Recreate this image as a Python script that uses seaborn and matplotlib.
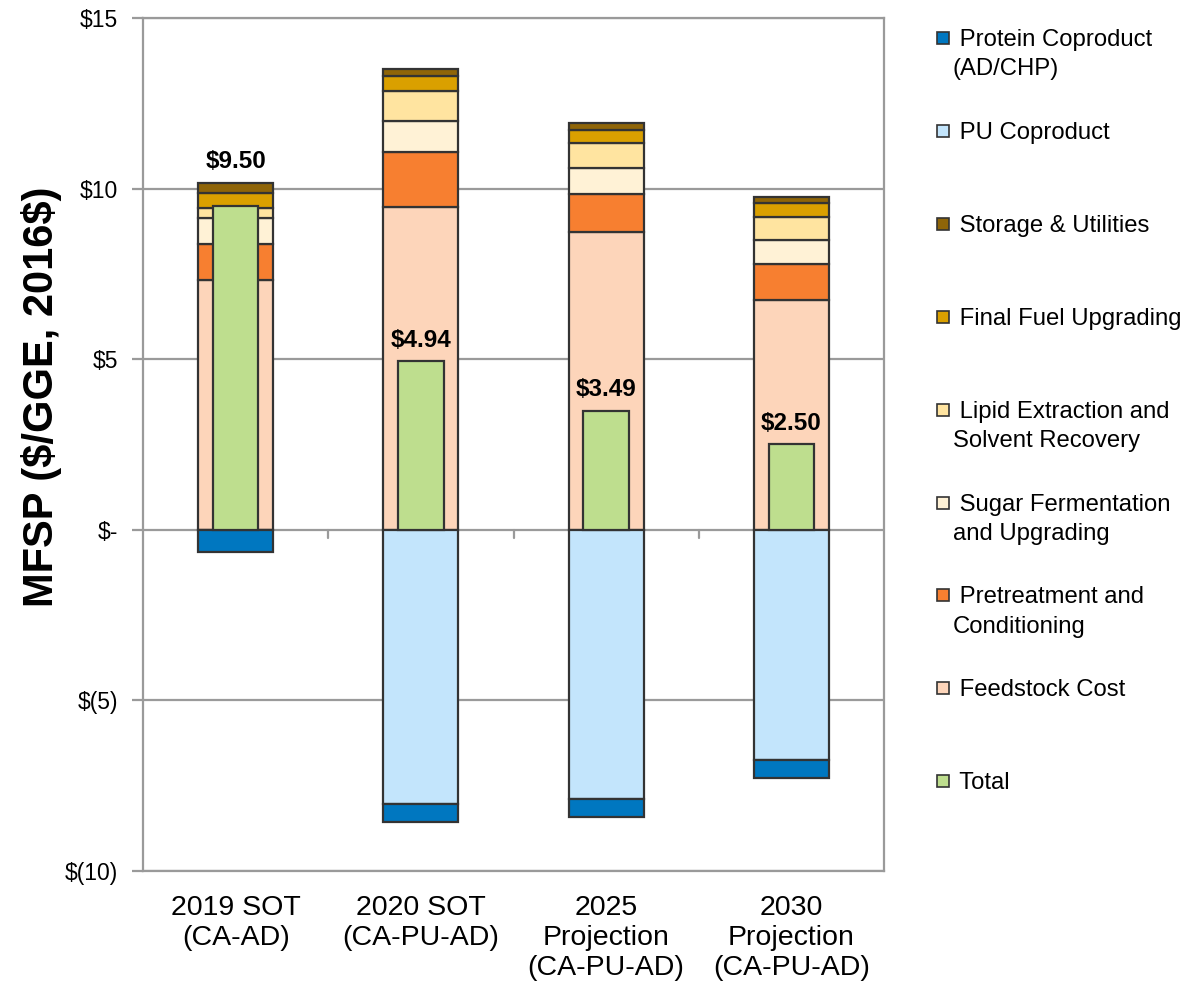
import matplotlib
matplotlib.use("Agg")
import matplotlib.pyplot as plt
import matplotlib.ticker as ticker
from matplotlib.patches import Rectangle
import seaborn as sns
import pandas as pd
import numpy as np

# data ($/GGE, 2016$)
categories = ["2019 SOT\n(CA-AD)", "2020 SOT\n(CA-PU-AD)",
              "2025\nProjection\n(CA-PU-AD)", "2030\nProjection\n(CA-PU-AD)"]
feedstock = [7.32, 9.47, 8.74, 6.74]
pretreatment = [1.06, 1.59, 1.10, 1.04]
sugar = [0.77, 0.93, 0.76, 0.71]
lipid = [0.29, 0.88, 0.73, 0.69]
final_fuel = [0.44, 0.44, 0.39, 0.39]
storage = [0.28, 0.19, 0.19, 0.19]
pu_coproduct = [0.0, -8.04, -7.90, -6.76]
protein = [-0.66, -0.52, -0.52, -0.50]
totals = [9.50, 4.94, 3.49, 2.50]

colors = {
    "Protein Coproduct (AD/CHP)": "#0077C0",
    "PU Coproduct": "#C3E5FC",
    "Storage & Utilities": "#8F6508",
    "Final Fuel Upgrading": "#DAA000",
    "Lipid Extraction and Solvent Recovery": "#FFE4A0",
    "Sugar Fermentation and Upgrading": "#FFF2D6",
    "Pretreatment and Conditioning": "#F77F30",
    "Feedstock Cost": "#FDD5BA",
    "Total": "#BEDE8E",
}

sns.set_style("white")
plt.rcParams['font.family'] = ['Liberation Sans', 'DejaVu Sans']
plt.rcParams['text.color'] = 'black'
plt.rcParams['axes.labelcolor'] = 'black'
plt.rcParams['xtick.color'] = 'black'
plt.rcParams['ytick.color'] = 'black'

W, H = 1184, 989
fig = plt.figure(figsize=(W / 100, H / 100), dpi=100)
ax = fig.add_axes([143 / W, 1 - 871 / H, (884 - 143) / W, (871 - 18) / H])

edge = "#333333"
bar_w = 0.405
tot_w = 0.245

pos_layers = [
    ("Feedstock Cost", feedstock),
    ("Pretreatment and Conditioning", pretreatment),
    ("Sugar Fermentation and Upgrading", sugar),
    ("Lipid Extraction and Solvent Recovery", lipid),
    ("Final Fuel Upgrading", final_fuel),
    ("Storage & Utilities", storage),
]
neg_layers = [
    ("PU Coproduct", pu_coproduct),
    ("Protein Coproduct (AD/CHP)", protein),
]

bottom = np.zeros(len(categories))
for name, vals in pos_layers:
    df = pd.DataFrame({"cat": categories, "val": vals})
    sns.barplot(data=df, x="cat", y="val", color=colors[name], saturation=1,
                width=bar_w, bottom=bottom, edgecolor=edge, linewidth=1.6,
                errorbar=None, ax=ax, zorder=3)
    bottom = bottom + np.array(vals)
pos_sum = bottom.copy()

bottom = np.zeros(len(categories))
for name, vals in neg_layers:
    df = pd.DataFrame({"cat": categories, "val": vals})
    sns.barplot(data=df, x="cat", y="val", color=colors[name], saturation=1,
                width=bar_w, bottom=bottom, edgecolor=edge, linewidth=1.6,
                errorbar=None, ax=ax, zorder=3)
    bottom = bottom + np.array(vals)

df_tot = pd.DataFrame({"cat": categories, "val": totals})
sns.barplot(data=df_tot, x="cat", y="val", color=colors["Total"], saturation=1,
            width=tot_w, edgecolor=edge, linewidth=1.6, errorbar=None, ax=ax, zorder=4)

# value labels
for i, t in enumerate(totals):
    anchor = pos_sum[i] if t > 0.9 * pos_sum[i] else t
    ax.annotate(f"\\${t:.2f}", (i, anchor), xytext=(0, 7), textcoords="offset points",
                ha="center", va="bottom", fontsize=17.5, fontweight="bold", zorder=6)

ax.set_xlim(-0.5, len(categories) - 0.5)
ax.set_ylim(-10, 15)
ax.set_yticks([-10, -5, 0, 5, 10, 15])


def money(y, _):
    if abs(y) < 1e-9:
        return "\\$-"
    if y < 0:
        return f"\\$({abs(y):g})"
    return f"\\${y:g}"


ax.yaxis.set_major_formatter(ticker.FuncFormatter(money))
ax.yaxis.grid(True, color="#9a9a9a", linewidth=1.6, zorder=1)
ax.set_axisbelow(True)
for s in ax.spines.values():
    s.set_color("#9a9a9a")
    s.set_linewidth(1.6)

# category separators on the zero line
for b in np.arange(0.5, len(categories) - 0.5):
    ax.plot([b, b], [0, -0.25], color="#9a9a9a", linewidth=1.6, zorder=2)

ax.tick_params(axis="y", left=True, length=8, width=1.6, color="#9a9a9a",
               labelcolor="black", labelsize=16.5, pad=10)
ax.tick_params(axis="x", bottom=False, labelcolor="black", labelsize=20.5, pad=14)
ax.set_xlabel("")
ax.set_ylabel("MFSP (\\$/GGE, 2016\\$)", fontsize=30, fontweight="bold")
ax.yaxis.set_label_coords(-0.109, 0.556)

# legend drawn by hand to mimic the spread-out layout
legend_labels = [
    ("Protein Coproduct (AD/CHP)", " Protein Coproduct\n(AD/CHP)"),
    ("PU Coproduct", " PU Coproduct"),
    ("Storage & Utilities", " Storage & Utilities"),
    ("Final Fuel Upgrading", " Final Fuel Upgrading"),
    ("Lipid Extraction and Solvent Recovery", " Lipid Extraction and\nSolvent Recovery"),
    ("Sugar Fermentation and Upgrading", " Sugar Fermentation\nand Upgrading"),
    ("Pretreatment and Conditioning", " Pretreatment and\nConditioning"),
    ("Feedstock Cost", " Feedstock Cost"),
    ("Total", " Total"),
]
for k, (key, text) in enumerate(legend_labels):
    cy = 38 + 92.9 * k
    fig.add_artist(Rectangle((937 / W, 1 - (cy + 6) / H), 12 / W, 12 / H,
                             facecolor=colors[key], edgecolor=edge, linewidth=1.2,
                             transform=fig.transFigure))
    fig.text(953 / W, 1 - (cy - 9) / H, text, fontsize=17.2, va="top", ha="left",
             linespacing=1.42)

fig.savefig("out.png", dpi=100)
